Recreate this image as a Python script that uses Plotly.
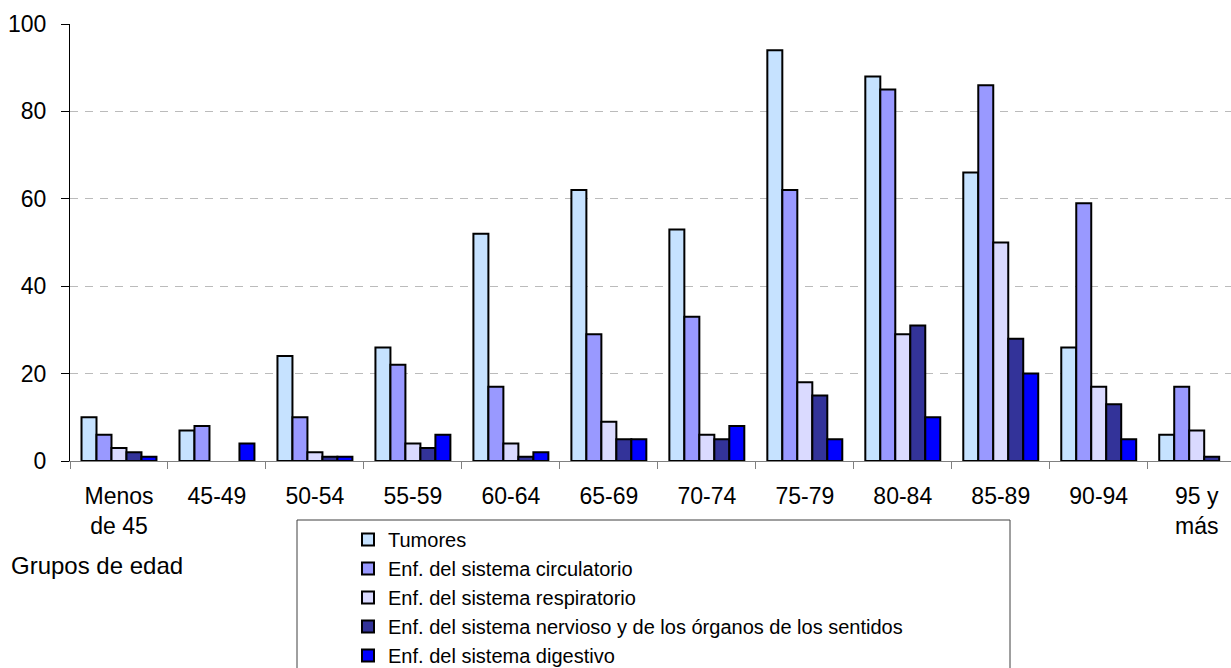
import plotly.graph_objects as go

# Age groups (x categories)
grupos = ["Menos<br>de 45", "45-49", "50-54", "55-59", "60-64", "65-69",
          "70-74", "75-79", "80-84", "85-89", "90-94", "95 y<br>más"]

# Deaths by cause and age group
tumores = [10, 7, 24, 26, 52, 62, 53, 94, 88, 66, 26, 6]
circulatorio = [6, 8, 10, 22, 17, 29, 33, 62, 85, 86, 59, 17]
respiratorio = [3, None, 2, 4, 4, 9, 6, 18, 29, 50, 17, 7]
nervioso = [2, None, 1, 3, 1, 5, 5, 15, 31, 28, 13, 1]
digestivo = [1, 4, 1, 6, 2, 5, 8, 5, 10, 20, 5, None]

series = [
    ("Tumores", tumores, "#C6E2FF"),
    ("Enf. del sistema circulatorio", circulatorio, "#9999FF"),
    ("Enf. del sistema respiratorio", respiratorio, "#DADAFF"),
    ("Enf. del sistema nervioso y de los órganos de los sentidos", nervioso, "#333399"),
    ("Enf. del sistema digestivo", digestivo, "#0000FF"),
]

FONT = "Liberation Sans, Arial, Helvetica, sans-serif"
W, H = 1231, 668
ML, MR, MT, MB = 70, 0, 24, 207
PW = W - ML - MR
PH = H - MT - MB


def px_x(x):
    return (x - ML) / PW


def px_y(y):
    return (H - MB - y) / PH


fig = go.Figure()
for name, vals, color in series:
    fig.add_trace(go.Bar(
        x=grupos, y=vals, name=name,
        marker=dict(color=color, line=dict(color="black", width=2)),
    ))

fig.update_layout(
    width=W, height=H,
    margin=dict(l=ML, r=MR, t=MT, b=MB, autoexpand=False),
    paper_bgcolor="white", plot_bgcolor="white",
    barmode="group", bargap=0.235, bargroupgap=0,
    font=dict(family=FONT, size=23, color="black"),
    showlegend=True,
    legend=dict(
        x=px_x(348), y=px_y(520), xanchor="left", yanchor="top",
        bgcolor="rgba(0,0,0,0)", borderwidth=0,
        font=dict(family=FONT, size=20, color="black"),
        tracegroupgap=0,
    ),
    xaxis=dict(
        type="category", range=[-0.5, 11.35], automargin=False,
        showline=True, linecolor="#808080", linewidth=1,
        ticks="outside", tickson="boundaries", ticklen=7, tickcolor="#808080",
        showgrid=False, ticklabelstandoff=14,
        tickfont=dict(family=FONT, size=23, color="black"),
    ),
    yaxis=dict(
        range=[0, 100], dtick=20, tick0=0, automargin=False,
        showline=True, linecolor="black", linewidth=1,
        ticks="outside", ticklen=8, tickcolor="black",
        showgrid=True, gridcolor="#BBBBBB", griddash="8px,7px", gridwidth=1,
        zeroline=False, ticklabelstandoff=10,
        tickfont=dict(family=FONT, size=23, color="black"),
    ),
    shapes=[dict(
        type="rect", xref="paper", yref="paper",
        x0=px_x(297), x1=px_x(1010), y0=px_y(520), y1=px_y(720),
        line=dict(color="#404040", width=1), fillcolor="rgba(0,0,0,0)",
        layer="below",
    )],
    annotations=[dict(
        text="Grupos de edad", xref="paper", yref="paper",
        x=px_x(9), y=px_y(565), xanchor="left", yanchor="middle",
        showarrow=False, font=dict(family=FONT, size=24, color="black"),
    )],
)

fig.write_html("out.html")
